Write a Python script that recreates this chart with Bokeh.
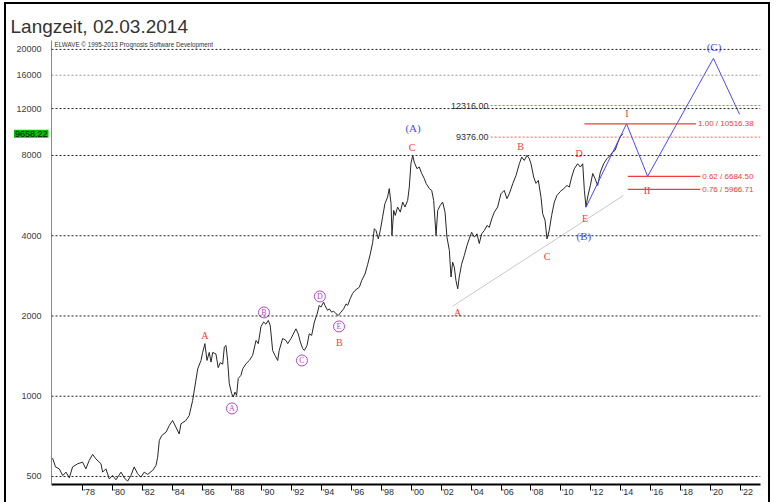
from bokeh.plotting import figure
from bokeh.models import (Range1d, FixedTicker, Label, Span, InlineStyleSheet,
                          NumeralTickFormatter, CustomJSTickFormatter)
from bokeh.core.properties import value
from bokeh.embed import file_html
from bokeh.resources import INLINE

# ---------------- data ----------------
years = [1976.0, 1976.2, 1976.45, 1976.68, 1976.9, 1977.12, 1977.34, 1977.68, 1978.01, 1978.23,
         1978.45, 1978.68, 1978.9, 1979.24, 1979.35, 1979.57, 1979.79, 1980.02, 1980.24, 1980.58,
         1980.8, 1981.02, 1981.24, 1981.46, 1981.69, 1981.91, 1982.13, 1982.36, 1982.7, 1982.92,
         1983.03, 1983.14, 1983.3, 1983.59, 1983.81, 1984.03, 1984.25, 1984.47, 1984.59, 1984.92,
         1985.14, 1985.37, 1985.71, 1985.93, 1986.04, 1986.19, 1986.33, 1986.48, 1986.6, 1986.71,
         1986.93, 1987.08, 1987.22, 1987.38, 1987.49, 1987.6, 1987.71, 1987.82, 1987.98, 1988.09,
         1988.2, 1988.31, 1988.42, 1988.6, 1988.72, 1988.94, 1989.16, 1989.38, 1989.61, 1989.76,
         1989.94, 1990.12, 1990.27, 1990.43, 1990.56, 1990.72, 1990.88, 1991.06, 1991.16, 1991.39,
         1991.61, 1991.73, 1991.95, 1992.28, 1992.43, 1992.57, 1992.73, 1992.84, 1993.02, 1993.17,
         1993.33, 1993.51, 1993.69, 1993.84, 1993.95, 1994.13, 1994.22, 1994.4, 1994.51, 1994.67,
         1994.8, 1994.96, 1995.11, 1995.29, 1995.47, 1995.63, 1995.74, 1995.91, 1996.07, 1996.23,
         1996.52, 1996.68, 1996.9, 1997.08, 1997.25, 1997.41, 1997.52, 1997.63, 1997.79, 1997.92,
         1998.08, 1998.23, 1998.41, 1998.52, 1998.64, 1998.7, 1998.82, 1998.92, 1999.08, 1999.26,
         1999.42, 1999.57, 1999.75, 1999.86, 1999.97, 2000.09, 2000.19, 2000.37, 2000.53, 2000.69,
         2000.86, 2000.98, 2001.2, 2001.36, 2001.49, 2001.65, 2001.76, 2001.93, 2002.09, 2002.25,
         2002.38, 2002.54, 2002.65, 2002.76, 2002.87, 2002.98, 2003.1, 2003.2, 2003.36, 2003.54,
         2003.72, 2003.87, 2004.03, 2004.21, 2004.39, 2004.54, 2004.7, 2004.88, 2005.06, 2005.21,
         2005.37, 2005.55, 2005.77, 2005.99, 2006.21, 2006.39, 2006.55, 2006.78, 2007.0, 2007.22,
         2007.38, 2007.55, 2007.73, 2007.89, 2008.0, 2008.18, 2008.33, 2008.49, 2008.67, 2008.78,
         2008.94, 2009.07, 2009.22, 2009.38, 2009.56, 2009.74, 2009.96, 2010.19, 2010.41, 2010.56,
         2010.72, 2010.9, 2011.12, 2011.3, 2011.46, 2011.57, 2011.68, 2011.79, 2011.97, 2012.13,
         2012.28, 2012.46, 2012.64, 2012.86, 2013.08, 2013.3, 2013.46, 2013.62, 2013.8, 2013.97,
         2014.15]
prices = [586, 543, 534, 504, 519, 494, 543, 558, 566, 534,
          574, 605, 582, 558, 519, 534, 490, 504, 486, 519,
          494, 480, 504, 543, 512, 497, 519, 509, 527, 550,
          590, 682, 712, 733, 777, 811, 766, 722, 788, 811,
          847, 964, 1267, 1362, 1460, 1575, 1362, 1460, 1343, 1460,
          1440, 1280, 1337, 1318, 1530, 1551, 1362, 1115, 1023, 993,
          1036, 1008, 1167, 1197, 1267, 1324, 1362, 1422, 1619, 1575,
          1825, 1898, 1863, 1924, 1843, 1485, 1422, 1362, 1485, 1647,
          1619, 1575, 1647, 1790, 1715, 1600, 1510, 1485, 1551, 1715,
          1691, 1898, 2030, 2191, 2159, 2255, 2191, 2098, 2127, 2067,
          2085, 2039, 2009, 2067, 2127, 2220, 2191, 2323, 2430, 2494,
          2565, 2719, 2875, 3128, 3414, 3770, 4250, 4188, 3893, 4188,
          4715, 5275, 5590, 6010, 5275, 4011, 4978, 4767, 5125, 4906,
          5350, 5125, 5427, 6090, 7450, 8006, 7560, 7140, 7240, 6846,
          6560, 6290, 6010, 5917, 5427, 4011, 4978, 5198, 5350, 4906,
          3952, 3523, 2800, 3185, 3050, 2719, 2530, 2800, 3128, 3374,
          3679, 3893, 4120, 3952, 4065, 3740, 4065, 4188, 4373, 4300,
          4620, 4906, 5125, 5750, 5917, 5512, 5750, 6270, 6735, 7450,
          7890, 7667, 8006, 7780, 7450, 6640, 6290, 6451, 5580, 4840,
          4566, 3893, 4188, 4767, 5350, 5667, 5860, 6010, 6178, 6090,
          6640, 7140, 7450, 7240, 7450, 5917, 5120, 5590, 6178, 6846,
          6560, 6178, 6930, 7450, 7780, 8006, 8240, 8359, 8920, 9400,
          9658.22]
last_close = 9658.22

y_ticks = [500, 1000, 2000, 4000, 8000, 12000, 16000, 20000]
tick_years = list(range(1978, 2023, 2))

# projected wave path (blue)
wave_years = [2011.68, 2014.39, 2015.8, 2020.2, 2021.95]
wave_vals = [5120, 10516.38, 6684.5, 18510, 11410]

# trend line (grey)
trend_years = [2002.75, 2014.19]
trend_vals = [2175, 5665]

# fibonacci targets
fib_ratios = ["1.00", "0.62", "0.76"]
fib_vals = [10516.38, 6684.50, 5966.71]
fib_start = [2011.57, 2014.47, 2014.47]
fib_end = [2019.04, 2019.32, 2019.32]

# horizontal levels (red dotted)
level_vals = [12316.00, 9376.00]
level_start = 2005.3

# wave labels
red_labels = ["A", "B", "C", "A", "B", "C", "D", "E", "I", "II"]
red_years = [1986.19, 1995.18, 2000.04, 2003.1, 2007.3, 2009.07, 2011.21, 2011.61, 2014.42, 2015.76]
red_vals = [1691, 1595, 8578, 2062, 8652, 3345, 8145, 4646, 11505, 5917]

blue_labels = ["(A)", "(B)", "(C)"]
blue_years = [2000.11, 2011.54, 2020.24]
blue_vals = [10110, 3976, 20350]

circ_labels = ["A", "B", "C", "D", "E"]
circ_years = [1988.0, 1990.14, 1992.68, 1993.88, 1995.16]
circ_vals = [900, 2062, 1362, 2368, 1827]

# ---------------- styling ----------------
SANS = "Liberation Sans"
SERIF = "Liberation Serif"
RED = "#f03c3c"
BLUE = "#4a4af2"
PURPLE = "#b048c4"

x0, x1 = 1975.93, 2023.35
y0, y1 = 466.5, 21600
p = figure(width=776, height=502, output_backend="svg", toolbar_location=None,
           x_range=Range1d(x0, x1), y_range=Range1d(y0, y1), y_axis_type="log",
           min_border_left=51, min_border_right=16, min_border_top=40, min_border_bottom=18)
p.outline_line_color = None
p.xgrid.visible = False
p.ygrid.visible = False
p.background_fill_color = "white"
p.border_fill_color = "white"

# picture frame around the whole chart (top, left and right edges)
p.stylesheets = [InlineStyleSheet(css=(
    ":host::after { content: ''; position: absolute; left: 4px; top: 2px; "
    "width: 766px; height: 500px; box-sizing: border-box; border: 2px solid #000; "
    "border-bottom: none; pointer-events: none; z-index: 10; }"))]

ya = p.yaxis[0]
ya.ticker = FixedTicker(ticks=y_ticks)
ya.formatter = NumeralTickFormatter(format="0")
ya.major_tick_line_color = None
ya.minor_tick_line_color = None
ya.axis_line_color = "#8a8a8a"
ya.major_label_text_font = SANS
ya.major_label_text_font_size = "9px"
ya.major_label_text_color = "#404040"
ya.major_label_standoff = 4

xa = p.xaxis[0]
xa.ticker = FixedTicker(ticks=[t + 0.45 for t in tick_years], minor_ticks=tick_years)
xa.formatter = CustomJSTickFormatter(
    code="const y = Math.round(tick - 0.45); return \"'\" + String(y % 100).padStart(2, '0');")
xa.major_tick_out = 0
xa.major_tick_in = 0
xa.major_tick_line_color = None
xa.minor_tick_out = 6
xa.minor_tick_in = 0
xa.minor_tick_line_color = "black"
xa.axis_line_color = "black"
xa.axis_line_width = 2
xa.major_label_text_font = SANS
xa.major_label_text_font_size = "9px"
xa.major_label_text_color = "#303030"
xa.major_label_standoff = -4

# grid lines
for v in y_ticks:
    p.add_layout(Span(location=v, dimension="width",
                      line_color="#999999" if v == 16000 else "#222222",
                      line_dash="2 2", line_width=1))

# red dotted levels
p.segment(x0=[level_start] * len(level_vals), y0=level_vals,
          x1=[x1] * len(level_vals), y1=level_vals,
          line_color="#ff5a5a", line_dash="2 2", line_width=1)
p.text(x=[level_start] * len(level_vals), y=level_vals,
       text=[f"{v:.2f}" for v in level_vals], x_offset=-2,
       text_align="right", text_baseline="middle",
       text_font=value(SANS), text_font_size="9px", text_color="#303030")

# trend line
p.line(trend_years, trend_vals, line_color="#c8c8c8", line_width=1)

# price series
p.line(years, prices, line_color="#262626", line_width=1)

# projection
p.line(wave_years, wave_vals, line_color=BLUE, line_width=1)

# fibonacci lines
p.segment(x0=fib_start, y0=fib_vals, x1=fib_end, y1=fib_vals, line_color=RED, line_width=1.2)
p.text(x=fib_end, y=fib_vals, text=[f"{r} / {v:.2f}" for r, v in zip(fib_ratios, fib_vals)],
       x_offset=2, text_align="left", text_baseline="middle",
       text_font=value(SANS), text_font_size="8px", text_color=RED)

# wave labels
p.text(x=red_years, y=red_vals, text=red_labels, text_align="center", text_baseline="middle",
       text_font=value(SERIF), text_font_size="10px", text_color=RED)
p.text(x=blue_years, y=blue_vals, text=blue_labels, text_align="center", text_baseline="middle",
       text_font=value(SERIF), text_font_size="11px", text_color=BLUE)
p.scatter(circ_years, circ_vals, marker="circle", size=11, fill_color=None,
          line_color=PURPLE, line_width=1)
p.text(x=circ_years, y=circ_vals, text=circ_labels, text_align="center", text_baseline="middle",
       text_font=value(SERIF), text_font_size="8px", text_color=PURPLE)

# copyright note
p.text(x=[x0], y=[y_ticks[-1]], text=["ELWAVE © 1995-2013 Prognosis Software Development"],
       x_offset=3, y_offset=-1, text_align="left", text_baseline="bottom",
       text_font=value(SANS), text_font_size="6.3px", text_color="#333333")

# title and last-close tag, placed in the top panel so they are not clipped to the frame
p.add_layout(Label(x=x0, y=y1, x_offset=-41, y_offset=14, text="Langzeit, 02.03.2014",
                   text_align="left", text_baseline="alphabetic",
                   text_font=SANS, text_font_size="19px", text_color="#333333"), "above")
p.add_layout(Label(x=x0, y=last_close, x_offset=-3, text=f"{last_close:.2f}",
                   text_align="right", text_baseline="middle",
                   text_font=SANS, text_font_size="9px", text_color="black",
                   background_fill_color="#00c000", padding=1), "above")

open("out.html", "w").write(file_html(p, INLINE))
